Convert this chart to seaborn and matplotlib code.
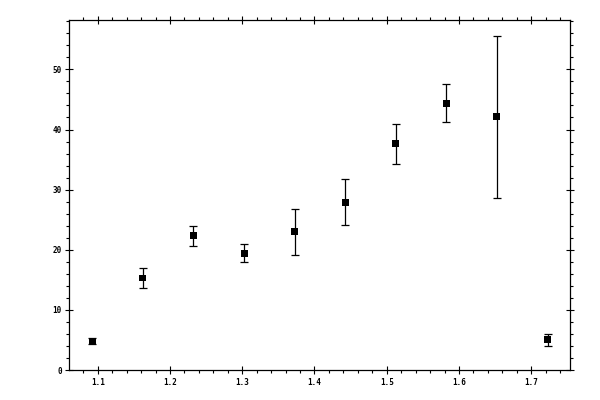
import matplotlib
matplotlib.use('Agg')
import matplotlib.pyplot as plt
from matplotlib.ticker import MultipleLocator
import seaborn as sns
import pandas as pd

# values
x_vals = [1.0925, 1.1625, 1.2325, 1.3025, 1.3725, 1.4425, 1.5125, 1.5825, 1.6525, 1.7225]
y_vals = [4.8, 15.3, 22.3, 19.4, 23.0, 27.9, 37.6, 44.4, 42.1, 5.0]
y_err = [0.5, 1.7, 1.65, 1.5, 3.8, 3.85, 3.4, 3.2, 13.45, 1.0]

df = pd.DataFrame({'x': x_vals, 'y': y_vals, 'err': y_err})

sns.set_style('ticks')
plt.rcParams['font.family'] = ['DejaVu Sans Mono']

fig = plt.figure(figsize=(6, 4), dpi=100)
ax = fig.add_axes([0.1155, 0.075, 0.835, 0.87625])

ax.errorbar(df['x'], df['y'], yerr=df['err'], fmt='none', ecolor='black',
            elinewidth=0.9, capsize=2.6, capthick=0.9, zorder=2)
sns.scatterplot(data=df, x='x', y='y', marker='s', s=25, color='black',
                edgecolor='none', linewidth=0, ax=ax, zorder=3)

ax.set_xlim(1.0607, 1.754)
ax.set_ylim(0, 58.3)
ax.xaxis.set_major_locator(MultipleLocator(0.1))
ax.xaxis.set_minor_locator(MultipleLocator(0.02))
ax.yaxis.set_major_locator(MultipleLocator(10))
ax.yaxis.set_minor_locator(MultipleLocator(2))
ax.set_xlabel('')
ax.set_ylabel('')

for s in ax.spines.values():
    s.set_visible(True)
    s.set_linewidth(0.9)
    s.set_color('black')

ax.tick_params(which='major', direction='inout', length=6, width=0.8,
               top=True, right=True, labelsize=5.5, pad=2.5, colors='black')
ax.tick_params(which='minor', direction='out', length=2.5, width=0.8,
               top=True, right=True, colors='black')
for lab in ax.get_xticklabels() + ax.get_yticklabels():
    lab.set_fontweight('bold')

fig.savefig('out.png', dpi=100)
